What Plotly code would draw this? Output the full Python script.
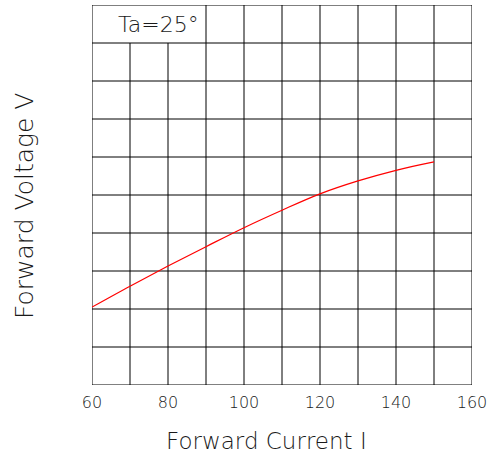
import plotly.graph_objects as go

# Data (y in grid units, 10 divisions)
current = [60, 70, 80, 90, 100, 110, 120, 130, 140, 150]
voltage = [2.05, 2.60, 3.13, 3.64, 4.14, 4.60, 5.03, 5.37, 5.65, 5.87]

x_ticks = [60, 80, 100, 120, 140, 160]
x_grid = [60, 70, 80, 90, 100, 110, 120, 130, 140, 150, 160]
y_grid = list(range(0, 11))
label_box_cols = [70, 80]  # vertical lines that stop below the label row
x_range = [60, 160]
y_range = [0, 10]

x_title = "Forward Current I"
y_title = "Forward Voltage V"
note = "Ta=25°"

FONT = "DejaVu Sans"
TXT = "#1a1a1a"

def f(size):
    return dict(size=size, family=FONT, color=TXT, weight=200)

fig = go.Figure()
fig.add_trace(go.Scatter(x=current, y=voltage, mode="lines", line=dict(color="#ff0000", width=1.2, shape="spline"),
                         hoverinfo="skip", showlegend=False))

shapes = []
for gx in x_grid:
    top = y_range[1] - 1 if gx in label_box_cols else y_range[1]
    shapes.append(dict(type="line", xref="x", yref="y", x0=gx, x1=gx, y0=y_range[0], y1=top,
                       line=dict(color="#000000", width=1), layer="below"))
for gy in y_grid:
    shapes.append(dict(type="line", xref="x", yref="y", x0=x_range[0], x1=x_range[1], y0=gy, y1=gy,
                       line=dict(color="#000000", width=1), layer="below"))

fig.update_layout(
    width=500, height=461,
    margin=dict(l=92, r=28, t=5, b=76),
    paper_bgcolor="white", plot_bgcolor="white",
    shapes=shapes,
    font=f(15),
    xaxis=dict(range=x_range, tickvals=x_ticks, showgrid=False, zeroline=False, showline=False,
               ticks="", tickfont=f(16), automargin=False, ticklabelstandoff=6),
    yaxis=dict(range=y_range, showticklabels=False, showgrid=False, zeroline=False, showline=False,
               ticks="", automargin=False),
    annotations=[
        dict(text=note, x=77.6, y=9.5, xref="x", yref="y", showarrow=False, font=f(22)),
        dict(text=x_title, x=0.458, y=-0.147, xref="paper", yref="paper", showarrow=False,
             xanchor="center", yanchor="middle", font=f(23)),
        dict(text=y_title, x=-0.179, y=0.471, xref="paper", yref="paper", showarrow=False,
             xanchor="center", yanchor="middle", textangle=-90, font=f(25)),
    ],
)

fig.write_html("out.html", config={"displayModeBar": False},
               post_script="document.body.style.margin='0';")
